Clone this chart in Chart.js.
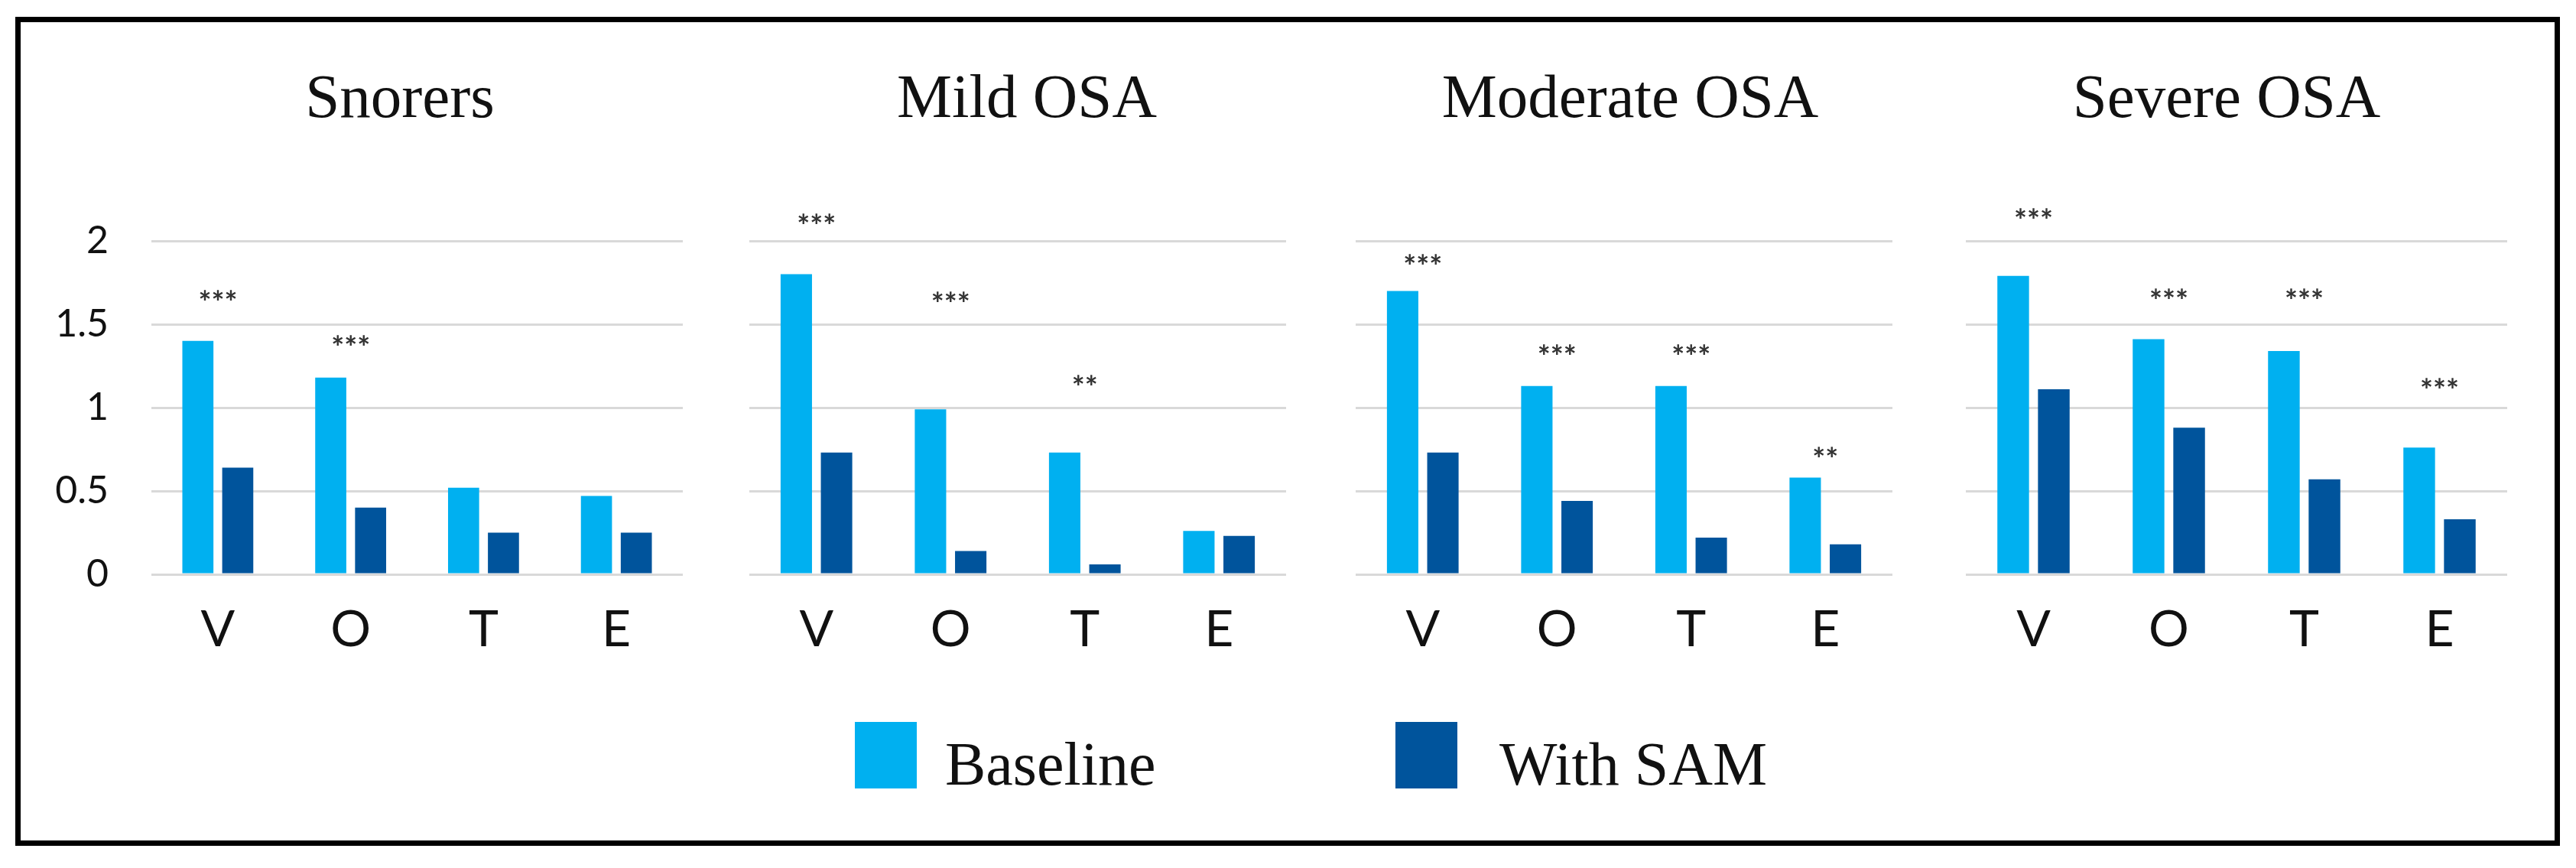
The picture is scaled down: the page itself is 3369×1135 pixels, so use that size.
<!DOCTYPE html>
<html>
<head>
<meta charset="utf-8">
<script src="https://cdn.jsdelivr.net/npm/chart.js@4.4.1/dist/chart.umd.min.js"></script>
<style>
body { margin:0; background:#fff; width:3369px; height:1135px; position:relative; overflow:hidden; }
.frame { position:absolute; left:20px; top:22px; width:3328px; height:1084px; border:7px solid #000; box-sizing:border-box; }
.title { position:absolute; top:80px; width:600px; margin-left:-300px; text-align:center; font-family:"Liberation Serif",serif; font-size:81px; color:#111; white-space:nowrap; }
.legtext { position:absolute; top:954px; font-family:"Liberation Serif",serif; font-size:80px; color:#111; white-space:nowrap; }
.legbox { position:absolute; top:944px; width:81px; height:87px; }
canvas { position:absolute; }
</style>
</head>
<body>
<div class="frame"></div>
<script>
const categories = ['V', 'O', 'T', 'E'];
const panelTitles = ['Snorers', 'Mild OSA', 'Moderate OSA', 'Severe OSA'];
const yTicks = [0, 0.5, 1, 1.5, 2];
const seriesNames = ['Baseline', 'With SAM'];

const baselineSnorers = [1.40, 1.18, 0.52, 0.47];
const samSnorers = [0.64, 0.40, 0.25, 0.25];
const baselineMild = [1.80, 0.99, 0.73, 0.26];
const samMild = [0.73, 0.14, 0.06, 0.23];
const baselineModerate = [1.70, 1.13, 1.13, 0.58];
const samModerate = [0.73, 0.44, 0.22, 0.18];
const baselineSevere = [1.79, 1.41, 1.34, 0.76];
const samSevere = [1.11, 0.88, 0.57, 0.33];

const starsSnorers = ['***', '***', '', ''];
const starLevelSnorers = [1.67, 1.40, null, null];
const starsMild = ['***', '***', '**', ''];
const starLevelMild = [2.13, 1.66, 1.16, null];
const starsModerate = ['***', '***', '***', '**'];
const starLevelModerate = [1.885, 1.345, 1.345, 0.73];
const starsSevere = ['***', '***', '***', '***'];
const starLevelSevere = [2.16, 1.68, 1.68, 1.14];

const colBase = '#00B0F0';
const colSam = '#00549C';

// layout of each panel: plot left/right edge, title centre
const panels = [
    { base: baselineSnorers, sam: samSnorers, stars: starsSnorers, lv: starLevelSnorers, left: 198, right: 893, tx: 523 },
    { base: baselineMild, sam: samMild, stars: starsMild, lv: starLevelMild, left: 980, right: 1682, tx: 1343 },
    { base: baselineModerate, sam: samModerate, stars: starsModerate, lv: starLevelModerate, left: 1773, right: 2475, tx: 2132 },
    { base: baselineSevere, sam: samSevere, stars: starsSevere, lv: starLevelSevere, left: 2571, right: 3279, tx: 2912 }
];

const plotTop = 315, plotBottom = 751, canvasBottom = 890;
const yAxisW = 158;
const yTickPad = 56, yTickSize = 50;

const starPlugin = {
    id: 'stars',
    afterDatasetsDraw(chart) {
        const p = chart.options.plugins.stars;
        const ctx = chart.ctx, xs = chart.scales.x, ys = chart.scales.y;
        ctx.save();
        ctx.font = 'bold 40px Lato, sans-serif';
        ctx.fillStyle = '#333';
        ctx.textAlign = 'center';
        ctx.textBaseline = 'alphabetic';
        p.labels.forEach((s, i) => {
            if (!s) return;
            ctx.fillText(s, xs.getPixelForValue(i), ys.getPixelForValue(p.levels[i]) + 23);
        });
        ctx.restore();
    }
};

panels.forEach((p, k) => {
    const t = document.createElement('div');
    t.className = 'title';
    t.style.left = p.tx + 'px';
    t.textContent = panelTitles[k];
    document.body.appendChild(t);

    const first = k === 0;
    // room above plot: chart.js keeps half a label + tick padding for the y labels
    const above = first ? yTickSize * 1.2 / 2 + yTickPad : 65;
    const top = plotTop - above;
    const cv = document.createElement('canvas');
    const left = first ? p.left - yAxisW : p.left;
    cv.width = p.right - left;
    cv.height = canvasBottom - top;
    cv.style.left = left + 'px';
    cv.style.top = top + 'px';
    document.body.appendChild(cv);

    new Chart(cv, {
        type: 'bar',
        data: {
            labels: categories,
            datasets: [
                { label: seriesNames[0], data: p.base, backgroundColor: colBase },
                { label: seriesNames[1], data: p.sam, backgroundColor: colSam }
            ]
        },
        options: {
            responsive: false,
            devicePixelRatio: 1,
            animation: false,
            layout: { padding: { top: above, left: 0, right: 0, bottom: 0 } },
            datasets: { bar: { categoryPercentage: 0.6, barPercentage: 0.78 } },
            plugins: {
                legend: { display: false },
                tooltip: { enabled: false },
                stars: { labels: p.stars, levels: p.lv }
            },
            scales: {
                x: {
                    grid: { display: false },
                    border: { display: false },
                    ticks: { color: '#111', font: { family: 'Lato', size: 66 }, padding: 25 },
                    afterFit(a) { a.height = canvasBottom - plotBottom; }
                },
                y: {
                    min: 0, max: 2,
                    afterBuildTicks(a) { a.ticks = yTicks.map(v => ({ value: v })); },
                    grid: { color: '#d9d9d9', lineWidth: 3, drawTicks: false },
                    border: { display: false },
                    ticks: { display: first, color: '#111', font: { family: 'Lato', size: yTickSize }, padding: yTickPad, callback: v => String(v) },
                    afterFit(a) { a.width = first ? yAxisW : 0; }
                }
            }
        },
        plugins: [starPlugin]
    });
});

// legend
[[1118, 1236, colBase], [1825, 1961, colSam]].forEach((l, i) => {
    const b = document.createElement('div');
    b.className = 'legbox';
    b.style.left = l[0] + 'px';
    b.style.background = l[2];
    document.body.appendChild(b);
    const s = document.createElement('div');
    s.className = 'legtext';
    s.style.left = l[1] + 'px';
    s.textContent = seriesNames[i];
    document.body.appendChild(s);
});
</script>
</body>
</html>
